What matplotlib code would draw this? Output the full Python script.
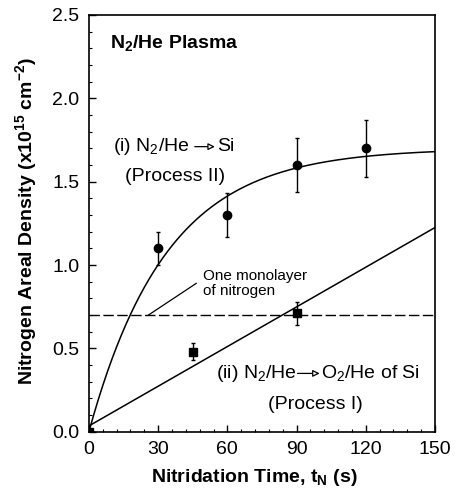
import numpy as np
import matplotlib
matplotlib.use("Agg")
import matplotlib.pyplot as plt
from matplotlib.ticker import MultipleLocator, FormatStrFormatter

# ---- data ----
t_proc2 = [0, 30, 60, 90, 120]
n_proc2 = [0.0, 1.10, 1.30, 1.60, 1.70]
err_proc2 = [0.0, 0.10, 0.13, 0.16, 0.17]

t_proc1 = [0, 45, 90]
n_proc1 = [0.0, 0.48, 0.71]
err_proc1 = [0.0, 0.05, 0.07]

# saturating fit for process II: A*(1-exp(-t/tau))
fit2_amp = 1.70
fit2_tau = 33.7
# linear fit for process I (endpoints)
fit1_t = [0, 150]
fit1_n = [0.035, 1.225]

monolayer = 0.70

plt.rcParams['font.family'] = ['Liberation Sans', 'DejaVu Sans']
plt.rcParams['mathtext.fontset'] = 'custom'
plt.rcParams['mathtext.rm'] = 'Liberation Sans'
plt.rcParams['mathtext.it'] = 'Liberation Sans:italic'
plt.rcParams['mathtext.bf'] = 'Liberation Sans:bold'

fig = plt.figure(figsize=(4.56, 4.98), dpi=100)
ax = fig.add_axes([0.195, 0.133, 0.759, 0.837])

tt = np.linspace(0, 150, 300)
ax.plot(tt, fit2_amp * (1 - np.exp(-tt / fit2_tau)), color='black', lw=1.1)
ax.plot(fit1_t, fit1_n, color='black', lw=1.1)
ax.axhline(monolayer, color='black', lw=1.0, dashes=(7.5, 2.5))

ax.errorbar(t_proc2, n_proc2, yerr=err_proc2, fmt='o', color='black',
            ms=6, elinewidth=1.0, capsize=1.6, capthick=1.0)
ax.errorbar(t_proc1, n_proc1, yerr=err_proc1, fmt='s', color='black',
            ms=5.2, elinewidth=1.0, capsize=1.6, capthick=1.0)

ax.set_xlim(0, 150)
ax.set_ylim(0, 2.5)
ax.xaxis.set_major_locator(MultipleLocator(30))
ax.xaxis.set_minor_locator(MultipleLocator(6))
ax.yaxis.set_major_locator(MultipleLocator(0.5))
ax.yaxis.set_minor_locator(MultipleLocator(0.1))
ax.yaxis.set_major_formatter(FormatStrFormatter('%.1f'))
ax.tick_params(which='both', direction='in', top=False, right=False, labelsize=14)
ax.tick_params(which='major', length=5, width=1.0, pad=7)
ax.tick_params(which='minor', length=2.5, width=0.8)
for s in ax.spines.values():
    s.set_linewidth(1.2)

ax.set_xlabel('Nitridation Time, t$_\\mathbf{N}$ (s)', fontsize=14, fontweight='bold')
ax.xaxis.set_label_coords(0.479, -0.085)
ax.set_ylabel('Nitrogen Areal Density (x10$^{\\mathbf{15}}$ cm$^{\\mathbf{-2}}$)',
              fontsize=14, fontweight='bold')
ax.yaxis.set_label_coords(-0.145, 0.505)

ax.text(9, 2.33, 'N$_\\mathbf{2}$/He Plasma', fontsize=14, fontweight='bold', va='center', ha='left')

arrow_kw = dict(arrowstyle='-|>,head_length=0.4,head_width=0.2', fc='white',
                ec='black', lw=0.9, shrinkA=0, shrinkB=0)

# (i) label
ax.text(10.3, 1.71, '(i) N$_2$/He', fontsize=14, va='center', ha='left')
ax.annotate('', xy=(54.6, 1.71), xytext=(45.9, 1.71), arrowprops=arrow_kw)
ax.text(55.5, 1.71, 'Si', fontsize=14, va='center', ha='left')
ax.text(37.2, 1.53, '(Process II)', fontsize=14, va='center', ha='center')

# (ii) label
ax.text(55.2, 0.35, '(ii) N$_2$/He', fontsize=14, va='center', ha='left')
ax.annotate('', xy=(100.0, 0.35), xytext=(90.4, 0.35), arrowprops=arrow_kw)
ax.text(100.7, 0.35, 'O$_2$/He of Si', fontsize=14, va='center', ha='left')
ax.text(98, 0.166, '(Process I)', fontsize=14, va='center', ha='center')

ax.text(49.3, 0.89, 'One monolayer\nof nitrogen', fontsize=11, va='center', ha='left',
        linespacing=1.05)
ax.plot([25.8, 46.5], [0.70, 0.89], color='black', lw=0.9)

fig.savefig('out.png', dpi=100)
